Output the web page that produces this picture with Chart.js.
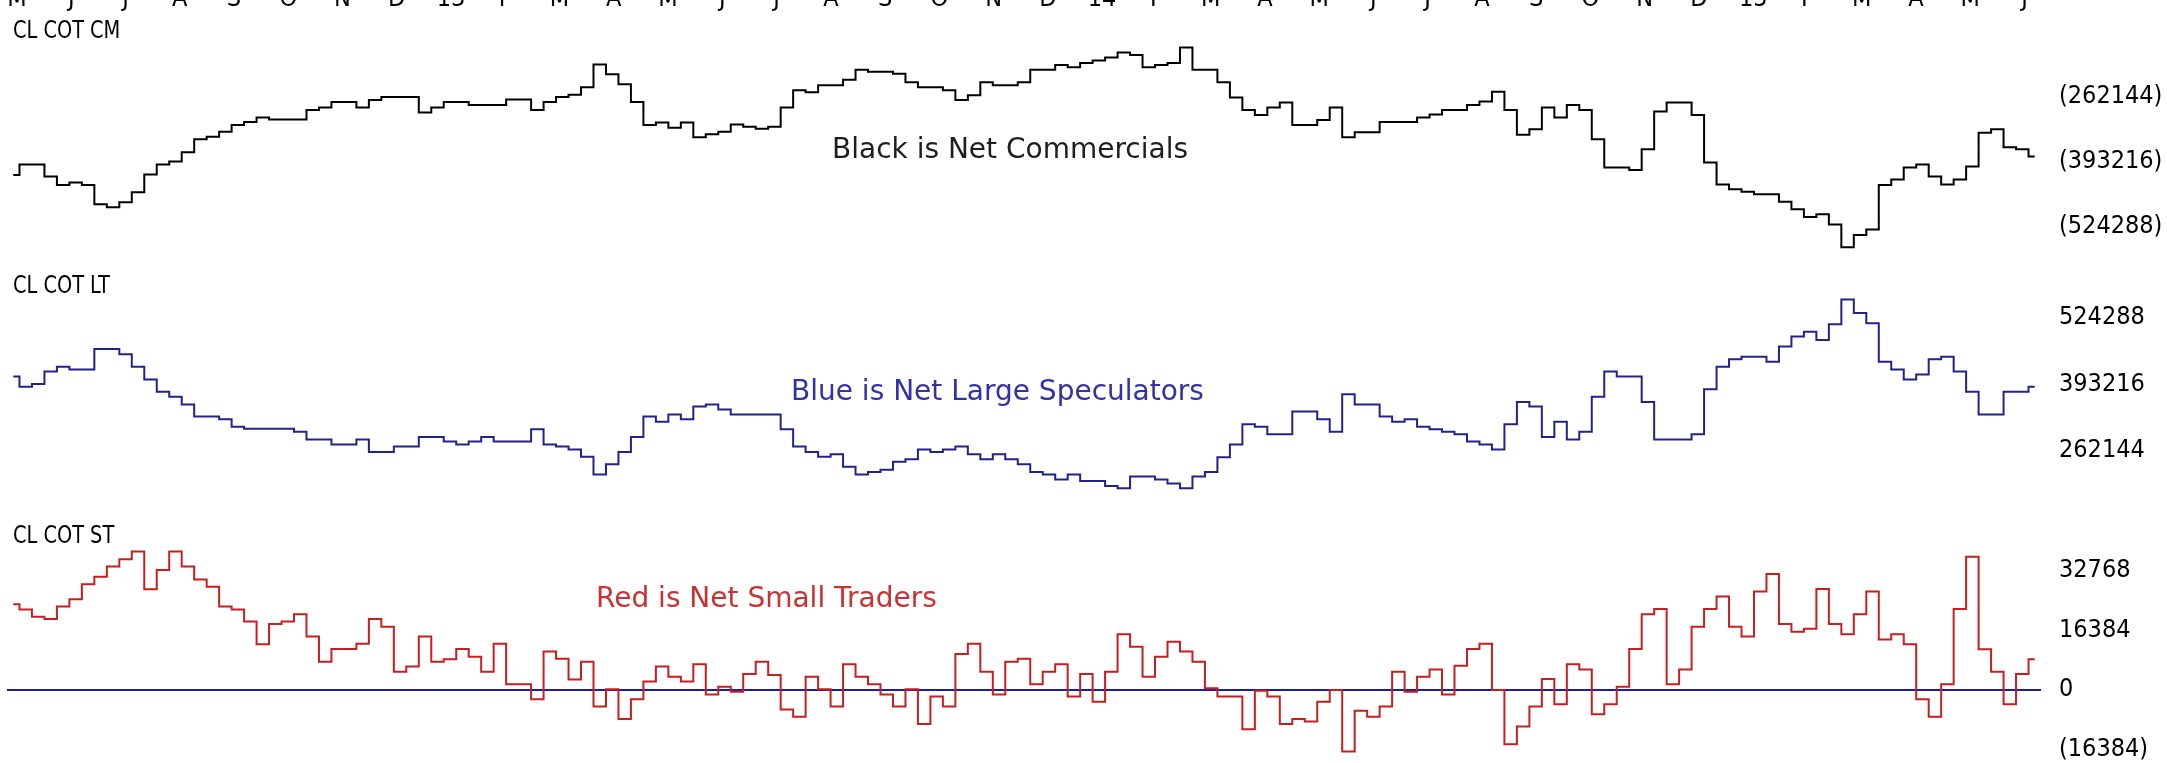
<!DOCTYPE html>
<html>
<head>
<meta charset="utf-8">
<script src="https://cdn.jsdelivr.net/npm/chart.js@4.4.1/dist/chart.umd.min.js"></script>
<style>
    html, body { margin: 0; padding: 0; background: #fff; }
    #wrap { position: relative; width: 2167px; height: 763px; overflow: hidden; background: #fff; }
    #wrap canvas { position: absolute; left: 0; }
</style>
</head>
<body>
<div id="wrap">
    <canvas id="cm" width="2167" height="288" style="top:-26px"></canvas>
    <canvas id="lt" width="2167" height="238" style="top:262px"></canvas>
    <canvas id="st" width="2167" height="263" style="top:500px"></canvas>
</div>
<script>
// weekly COT net positions, crude oil (CL)
var weeks = [];
for ( var w = 1; w <= 163; w++ ) weeks.push( w );

var months = [ "M", "J", "J", "A", "S", "O", "N", "D", "13", "F", "M", "A", "M", "J", "J", "A", "S", "O", "N", "D",
    "14", "F", "M", "A", "M", "J", "J", "A", "S", "O", "N", "D", "15", "F", "M", "A", "M", "J" ];

var commercials = [
    -420000, -399000, -399000, -423000, -440000, -435000, -440000, -479000, -485000, -475000,
    -455000, -419000, -399000, -393000, -374000, -348000, -343000, -333000, -319000, -313000,
    -304000, -308000, -308000, -308000, -289000, -284000, -273000, -273000, -284000, -269000,
    -263000, -263000, -263000, -294000, -284000, -273000, -273000, -279000, -279000, -279000,
    -268000, -268000, -289000, -273000, -263000, -258000, -243000, -197000, -217000, -237000,
    -273000, -319000, -314000, -325000, -314000, -344000, -338000, -333000, -318000, -323000,
    -327000, -323000, -284000, -249000, -253000, -239000, -239000, -228000, -208000, -212000,
    -212000, -216000, -233000, -243000, -243000, -249000, -269000, -259000, -233000, -239000,
    -239000, -233000, -208000, -208000, -198000, -203000, -194000, -189000, -183000, -173000,
    -178000, -203000, -198000, -194000, -163000, -208000, -208000, -233000, -264000, -289000,
    -299000, -284000, -274000, -319000, -319000, -309000, -284000, -344000, -334000, -334000,
    -313000, -313000, -313000, -304000, -298000, -289000, -289000, -279000, -272000, -252000,
    -289000, -339000, -328000, -284000, -304000, -279000, -289000, -348000, -405000, -405000,
    -410000, -368000, -292000, -274000, -274000, -299000, -395000, -439000, -449000, -454000,
    -459000, -459000, -474000, -489000, -505000, -499000, -520000, -566000, -541000, -530000,
    -440000, -429000, -405000, -399000, -423000, -439000, -429000, -403000, -335000, -328000,
    -364000, -368000, -383000 ];

var largeSpecs = [
    408000, 388000, 393000, 418000, 427000, 422000, 422000, 462000, 462000, 452000,
    427000, 402000, 378000, 368000, 353000, 329000, 329000, 324000, 309000, 305000,
    305000, 305000, 305000, 299000, 284000, 284000, 274000, 274000, 284000, 259000,
    259000, 270000, 270000, 289000, 289000, 280000, 274000, 280000, 289000, 280000,
    280000, 280000, 304000, 274000, 270000, 264000, 250000, 215000, 235000, 259000,
    289000, 329000, 319000, 333000, 324000, 349000, 353000, 343000, 333000, 333000,
    333000, 333000, 304000, 270000, 259000, 250000, 255000, 230000, 215000, 220000,
    224000, 240000, 245000, 264000, 259000, 264000, 270000, 255000, 245000, 255000,
    245000, 235000, 220000, 215000, 205000, 215000, 202000, 202000, 192000, 188000,
    211000, 211000, 205000, 197000, 188000, 211000, 220000, 249000, 274000, 314000,
    309000, 294000, 294000, 339000, 339000, 324000, 299000, 373000, 353000, 353000,
    329000, 319000, 324000, 309000, 304000, 299000, 294000, 280000, 274000, 264000,
    314000, 358000, 349000, 289000, 319000, 284000, 299000, 368000, 418000, 408000,
    408000, 358000, 284000, 284000, 284000, 294000, 383000, 427000, 442000, 447000,
    447000, 437000, 467000, 487000, 496000, 480000, 511000, 560000, 533000, 513000,
    437000, 422000, 402000, 412000, 442000, 447000, 418000, 378000, 333000, 333000,
    378000, 378000, 388000 ];

var smallTraders = [
    23400, 22000, 20000, 19400, 22800, 24800, 28900, 30900, 33700, 35700,
    37800, 27500, 32800, 37800, 33700, 30200, 28200, 22800, 22000, 18700,
    12500, 18000, 18700, 20700, 14600, 7700, 11200, 11200, 12600, 19400,
    17300, 5000, 6400, 14600, 7700, 8400, 11200, 9100, 5000, 12600,
    1600, 1600, -2500, 10500, 8500, 2900, 7700, -4500, 200, -7900,
    -2500, 2300, 6400, 3600, 2300, 7000, -1200, 900, -500, 4400,
    7700, 4100, -5300, -7300, 3600, 200, -4500, 7000, 3600, 1600,
    -1200, -4500, 200, -9300, -1800, -4500, 9800, 12600, 5000, -1200,
    7700, 8500, 1600, 5000, 7000, -1800, 4400, -3200, 5000, 15200,
    11800, 3600, 9100, 13200, 10500, 7700, 500, -1800, -1800, -10700,
    -200, -1800, -9300, -7900, -8600, -3200, 0, -16800, -5700, -7300,
    -4500, 5000, -500, 3600, 5600, -1200, 6600, 11200, 12600, 0,
    -14800, -10000, -4500, 3000, -3900, 7000, 5600, -6600, -3900, 900,
    11200, 20700, 22100, 1600, 5600, 17300, 22100, 25500, 17300, 14600,
    26900, 31700, 18000, 15900, 16700, 27600, 18000, 15200, 20700, 26900,
    13800, 15200, 12500, -2500, -7300, 1600, 22100, 36400, 11100, 5000,
    -3900, 4400, 8400 ];

var cmTicks = [ -262144, -393216, -524288 ];
var ltTicks = [ 524288, 393216, 262144 ];
var stTicks = [ 32768, 16384, 0, -16384 ];

( function () {
    var axisFont = { family: "DejaVu Sans Condensed", size: 25 };

    function tickText( value ) {
        return value < 0 ? "(" + ( -value ) + ")" : String( value );
    }

    // free text: panel names and the colour notes
    var notes = {
        id: "notes",
        afterDraw: function ( chart, args, opts ) {
            var ctx = chart.ctx;
            opts.items.forEach( function ( t ) {
                ctx.save();
                ctx.font = t.font;
                ctx.fillStyle = t.color;
                ctx.textBaseline = "alphabetic";
                ctx.translate( t.x, t.y );
                ctx.scale( t.sx || 1, 1 );
                ctx.fillText( t.text, 0, 0 );
                ctx.restore();
            } );
        }
    };

    function panel( id, values, color, range, ticks, items, zeroLine, withMonths ) {
        var scales = {
            x: { type: "category", offset: true, display: false },
            y: {
                position: "right",
                min: range[ 0 ],
                max: range[ 1 ],
                afterFit: function ( axis ) {
                    axis.width = 126;
                    axis.paddingTop = 0;
                    axis.paddingBottom = 0;
                },
                afterBuildTicks: function ( axis ) {
                    axis.ticks = ticks.map( function ( v ) { return { value: v }; } );
                },
                border: { display: false },
                grid: {
                    display: zeroLine,
                    drawTicks: false,
                    tickLength: 0,
                    lineWidth: 2,
                    color: function ( c ) {
                        return c.tick && c.tick.value === 0 ? "#1e1e9c" : "rgba(0,0,0,0)";
                    }
                },
                ticks: { autoSkip: false, padding: 18, color: "#000", font: axisFont, callback: tickText }
            }
        };
        if ( withMonths ) {
            scales.months = {
                type: "linear",
                axis: "x",
                position: "top",
                min: -0.5,
                max: 162.5,
                afterFit: function ( axis ) {
                    axis.height = 40;
                    axis.paddingLeft = 0;
                    axis.paddingRight = 0;
                },
                afterBuildTicks: function ( axis ) {
                    axis.ticks = months.map( function ( m, i ) { return { value: 0.3 + i * 4.348 }; } );
                },
                border: { display: false },
                grid: { display: false, drawTicks: false, tickLength: 0 },
                ticks: {
                    autoSkip: false,
                    maxRotation: 0,
                    padding: 0,
                    color: "#000",
                    font: axisFont,
                    callback: function ( v, i ) { return months[ i ]; }
                }
            };
        }
        new Chart( document.getElementById( id ).getContext( "2d" ), {
            type: "line",
            data: {
                labels: weeks,
                datasets: [ {
                    data: values,
                    borderColor: color,
                    borderWidth: 2,
                    pointRadius: 0,
                    stepped: "middle",
                    fill: false
                } ]
            },
            options: {
                responsive: false,
                animation: false,
                devicePixelRatio: 1,
                events: [],
                layout: { padding: { left: 7, right: 0, top: 0, bottom: 0 } },
                plugins: {
                    legend: { display: false },
                    tooltip: { enabled: false },
                    notes: { items: items }
                },
                scales: scales
            },
            plugins: [ notes ]
        } );
    }

    var nameFont = "25px 'DejaVu Sans Condensed'";
    var noteFont = "28px 'DejaVu Sans'";

    panel( "cm", commercials, "#000000", [ -595500, -95400 ], cmTicks, [
        { text: "CL COT CM", x: 13, y: 64, sx: 0.86, font: nameFont, color: "#000" },
        { text: "Black is Net Commercials", x: 832, y: 184, font: noteFont, color: "#1e1e1e" }
    ], false, true );

    panel( "lt", largeSpecs, "#22228c", [ 164600, 633700 ], ltTicks, [
        { text: "CL COT LT", x: 13, y: 31, sx: 0.86, font: nameFont, color: "#000" },
        { text: "Blue is Net Large Speculators", x: 791, y: 138, font: noteFont, color: "#3232a8" }
    ], false, false );

    panel( "st", smallTraders, "#c81e1e", [ -19934, 51883 ], stTicks, [
        { text: "CL COT ST", x: 13, y: 43, sx: 0.86, font: nameFont, color: "#000" },
        { text: "Red is Net Small Traders", x: 596, y: 107, font: noteFont, color: "#c83232" }
    ], true, false );
} )();
</script>
</body>
</html>
